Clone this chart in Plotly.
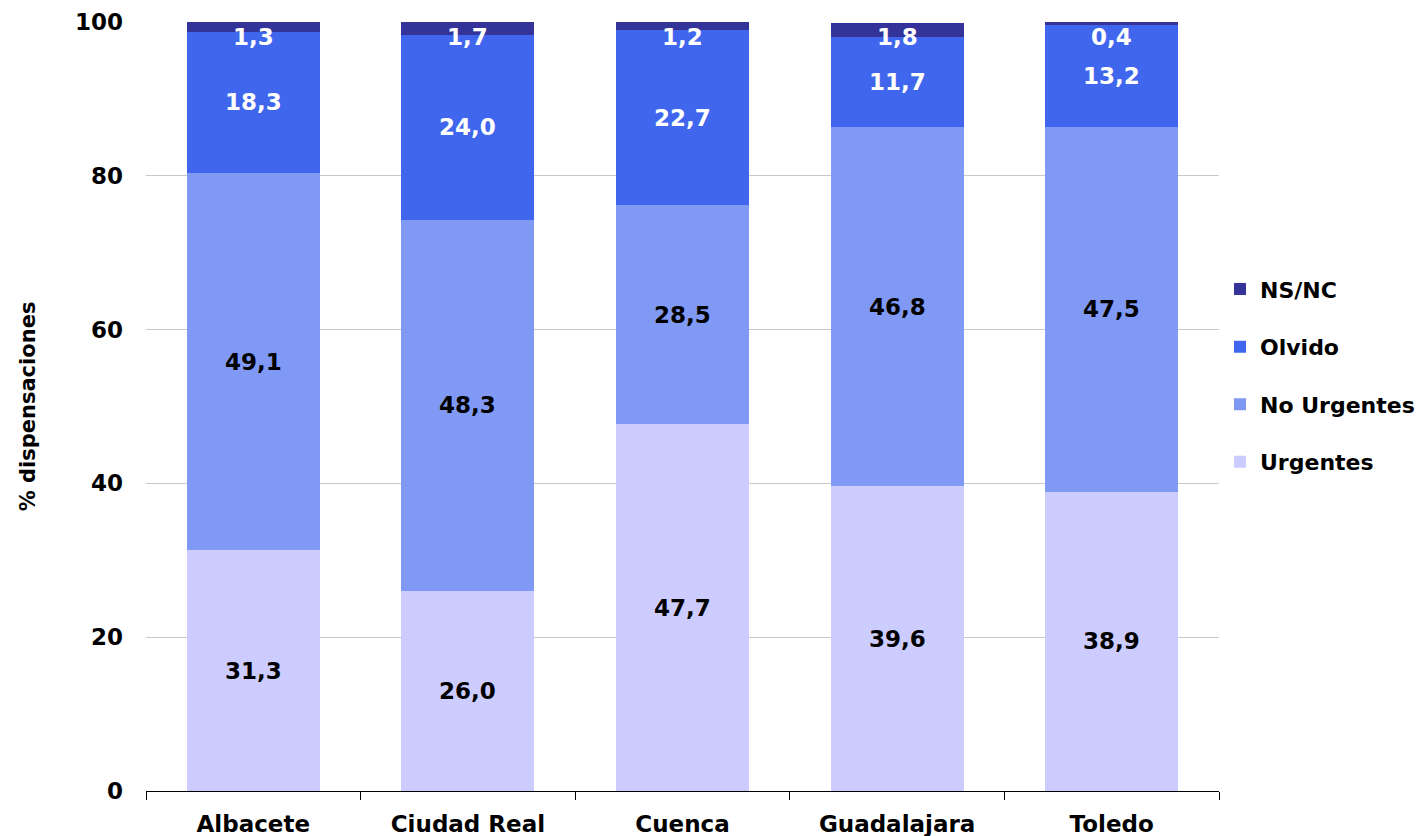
import plotly.graph_objects as go

categories = ["Albacete", "Ciudad Real", "Cuenca", "Guadalajara", "Toledo"]
urgentes = [31.3, 26.0, 47.7, 39.6, 38.9]
no_urgentes = [49.1, 48.3, 28.5, 46.8, 47.5]
olvido = [18.3, 24.0, 22.7, 11.7, 13.2]
nsnc = [1.3, 1.7, 1.2, 1.8, 0.4]

series = [
    ("Urgentes", urgentes, "#CCCCFF", "black"),
    ("No Urgentes", no_urgentes, "#7F99F5", "black"),
    ("Olvido", olvido, "#4066EE", "white"),
    ("NS/NC", nsnc, "#333399", "white"),
]

FONT = "DejaVu Sans"
FS = 23
fig = go.Figure()
for i, (name, vals, color, _) in enumerate(series):
    fig.add_trace(go.Bar(
        x=categories, y=vals, name=name, marker_color=color,
        marker_line_width=0, legendgroup=name, legendrank=len(series) - i,
        width=0.62,
    ))

def fmt(v):
    return f"{v:.1f}".replace(".", ",")

annotations = []
base = [0.0] * len(categories)
for name, vals, color, tcolor in series:
    for j, c in enumerate(categories):
        mid = base[j] + vals[j] / 2
        if name == "NS/NC":
            annotations.append(dict(x=c, y=100, yshift=-15, text=f"<b>{fmt(vals[j])}</b>",
                                    showarrow=False, yanchor="middle",
                                    font=dict(family=FONT, size=FS, color=tcolor)))
        else:
            annotations.append(dict(x=c, y=mid, text=f"<b>{fmt(vals[j])}</b>",
                                    showarrow=False, yanchor="middle",
                                    font=dict(family=FONT, size=FS, color=tcolor)))
        base[j] += vals[j]

fig.update_layout(
    barmode="stack",
    width=1427, height=836,
    margin=dict(l=138, r=216, t=14, b=53, autoexpand=False),
    plot_bgcolor="white", paper_bgcolor="white",
    font=dict(family=FONT, size=FS, color="black"),
    annotations=annotations,
    showlegend=True,
    legend=dict(
        xref="container", x=1212 / 1427, xanchor="left",
        y=0.54, yanchor="middle",
        traceorder="grouped", tracegroupgap=26,
        font=dict(family=FONT, size=22, color="black", weight="bold"),
        itemwidth=30,
    ),
)
fig.update_xaxes(
    showline=True, linecolor="black", linewidth=1,
    ticks="outside", tickson="boundaries", ticklen=8, tickcolor="black",
    tickfont=dict(family=FONT, size=FS, color="black", weight="bold"),
    ticklabelstandoff=12, automargin=False,
    showgrid=False,
)
fig.update_yaxes(
    range=[0, 100], tickvals=[0, 20, 40, 60, 80, 100],
    showgrid=True, gridcolor="#C8C8C8", gridwidth=1,
    zeroline=False, showline=False,
    tickfont=dict(family=FONT, size=FS, color="black", weight="bold"),
    ticks="", ticklabelstandoff=22, automargin=False,
    title=dict(text="<b>% dispensaciones</b>", font=dict(family=FONT, size=21, color="black"), standoff=33),
)
fig.write_html("out.html")
